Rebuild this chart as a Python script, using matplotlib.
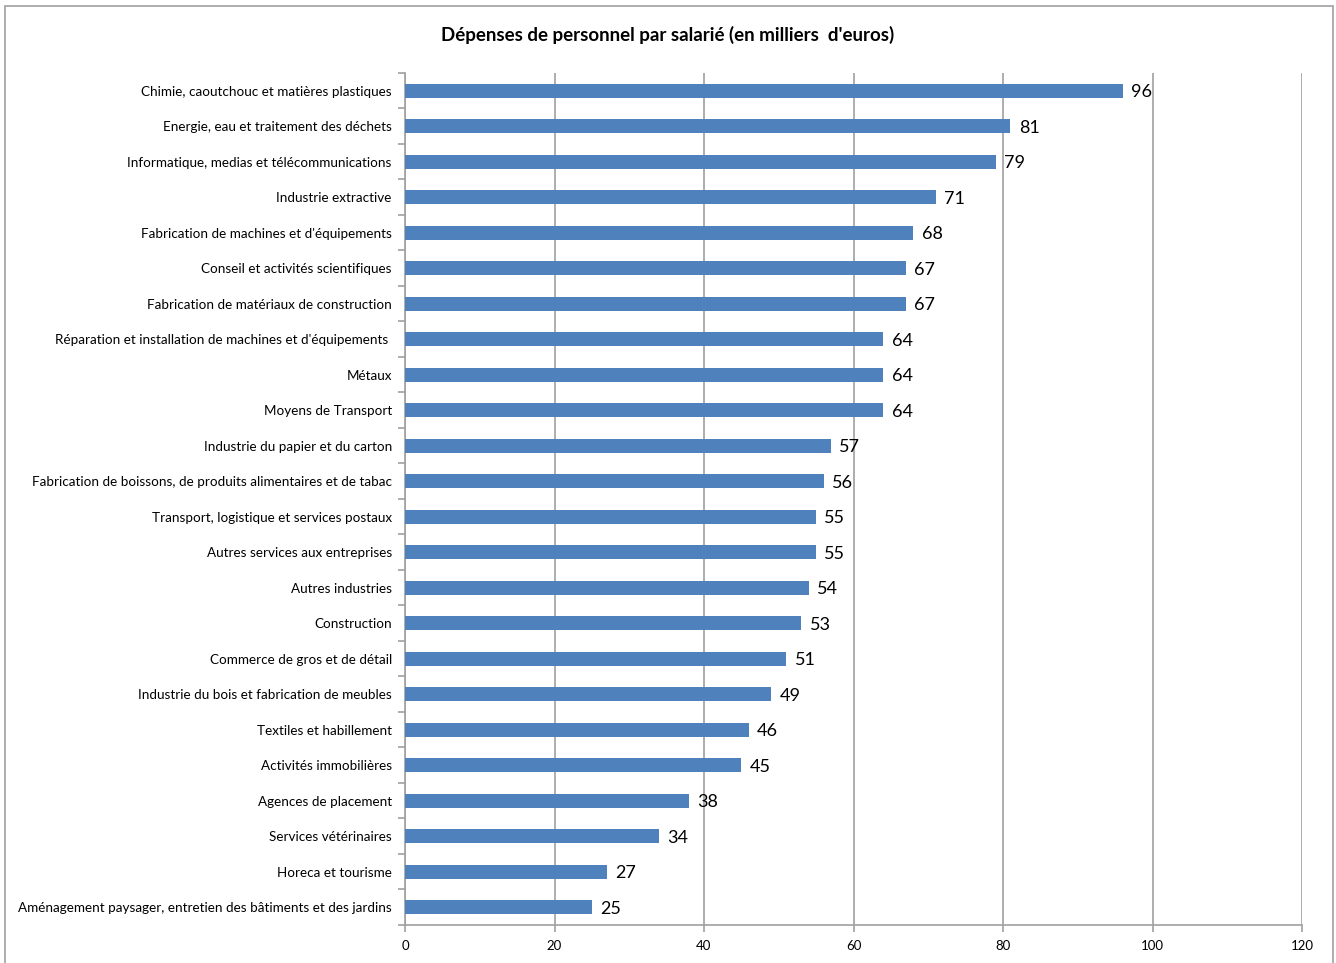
import matplotlib
matplotlib.use("Agg")
import matplotlib.pyplot as plt
from matplotlib.patches import Rectangle

plt.rcParams['font.family'] = ['Lato', 'DejaVu Sans']

categories = [
    "Chimie, caoutchouc et matières plastiques",
    "Energie, eau et traitement des déchets",
    "Informatique, medias et télécommunications",
    "Industrie extractive",
    "Fabrication de machines et d'équipements",
    "Conseil et activités scientifiques",
    "Fabrication de matériaux de construction",
    "Réparation et installation de machines et d'équipements ",
    "Métaux",
    "Moyens de Transport",
    "Industrie du papier et du carton",
    "Fabrication de boissons, de produits alimentaires et de tabac",
    "Transport, logistique et services postaux",
    "Autres services aux entreprises",
    "Autres industries",
    "Construction",
    "Commerce de gros et de détail",
    "Industrie du bois et fabrication de meubles",
    "Textiles et habillement",
    "Activités immobilières",
    "Agences de placement",
    "Services vétérinaires",
    "Horeca et tourisme",
    "Aménagement paysager, entretien des bâtiments et des jardins",
]
values = [96, 81, 79, 71, 68, 67, 67, 64, 64, 64, 57, 56, 55, 55, 54, 53, 51,
          49, 46, 45, 38, 34, 27, 25]
xticks = [0, 20, 40, 60, 80, 100, 120]
title = "Dépenses de personnel par salarié (en milliers  d'euros)"

W, H = 1336, 963
fig = plt.figure(figsize=(W / 100, H / 100), dpi=100)
fig.patch.set_facecolor('white')

# outer chart border
fig.add_artist(Rectangle((5 / W, -0.01), (1333 - 5) / W, 1 - 6 / H + 0.01,
                         transform=fig.transFigure, fill=False,
                         edgecolor='#a0a0a0', linewidth=1.2))

ax = fig.add_axes([405 / W, 1 - 925 / H, (1302 - 405) / W, (925 - 73) / H])

n = len(categories)
ypos = list(range(n))
ax.barh(ypos, values, height=0.4, color='#4F81BD', zorder=3)
ax.set_ylim(n - 0.5, -0.5)
ax.set_xlim(0, 120)
ax.set_xticks(xticks)
ax.set_xticklabels([str(t) for t in xticks], fontsize=9.5)
ax.set_yticks(ypos)
ax.set_yticklabels(categories, fontsize=9.7)
ax.tick_params(axis='y', length=0, pad=9.5)
ax.tick_params(axis='x', length=5, color='#a0a0a0', width=1.2, pad=6)

# minor ticks between categories on the y axis
ax.set_yticks([i - 0.5 for i in range(n + 1)], minor=True)
ax.tick_params(axis='y', which='minor', length=5, color='#a0a0a0', width=1.2)

ax.grid(axis='x', color='#a0a0a0', linewidth=1.2, zorder=0)
for s in ['top', 'right']:
    ax.spines[s].set_visible(False)
for s in ['left', 'bottom']:
    ax.spines[s].set_color('#a0a0a0')
    ax.spines[s].set_linewidth(1.2)

for y, v in zip(ypos, values):
    ax.annotate(str(v), (v, y), xytext=(6, -1), textcoords='offset points',
                va='center', ha='left', fontsize=13, color='black', zorder=4)

fig.text(0.5, 1 - 35 / H, title, ha='center', va='center',
         fontsize=13.5, fontweight='bold')

fig.savefig('out.png', dpi=100, facecolor='white')
